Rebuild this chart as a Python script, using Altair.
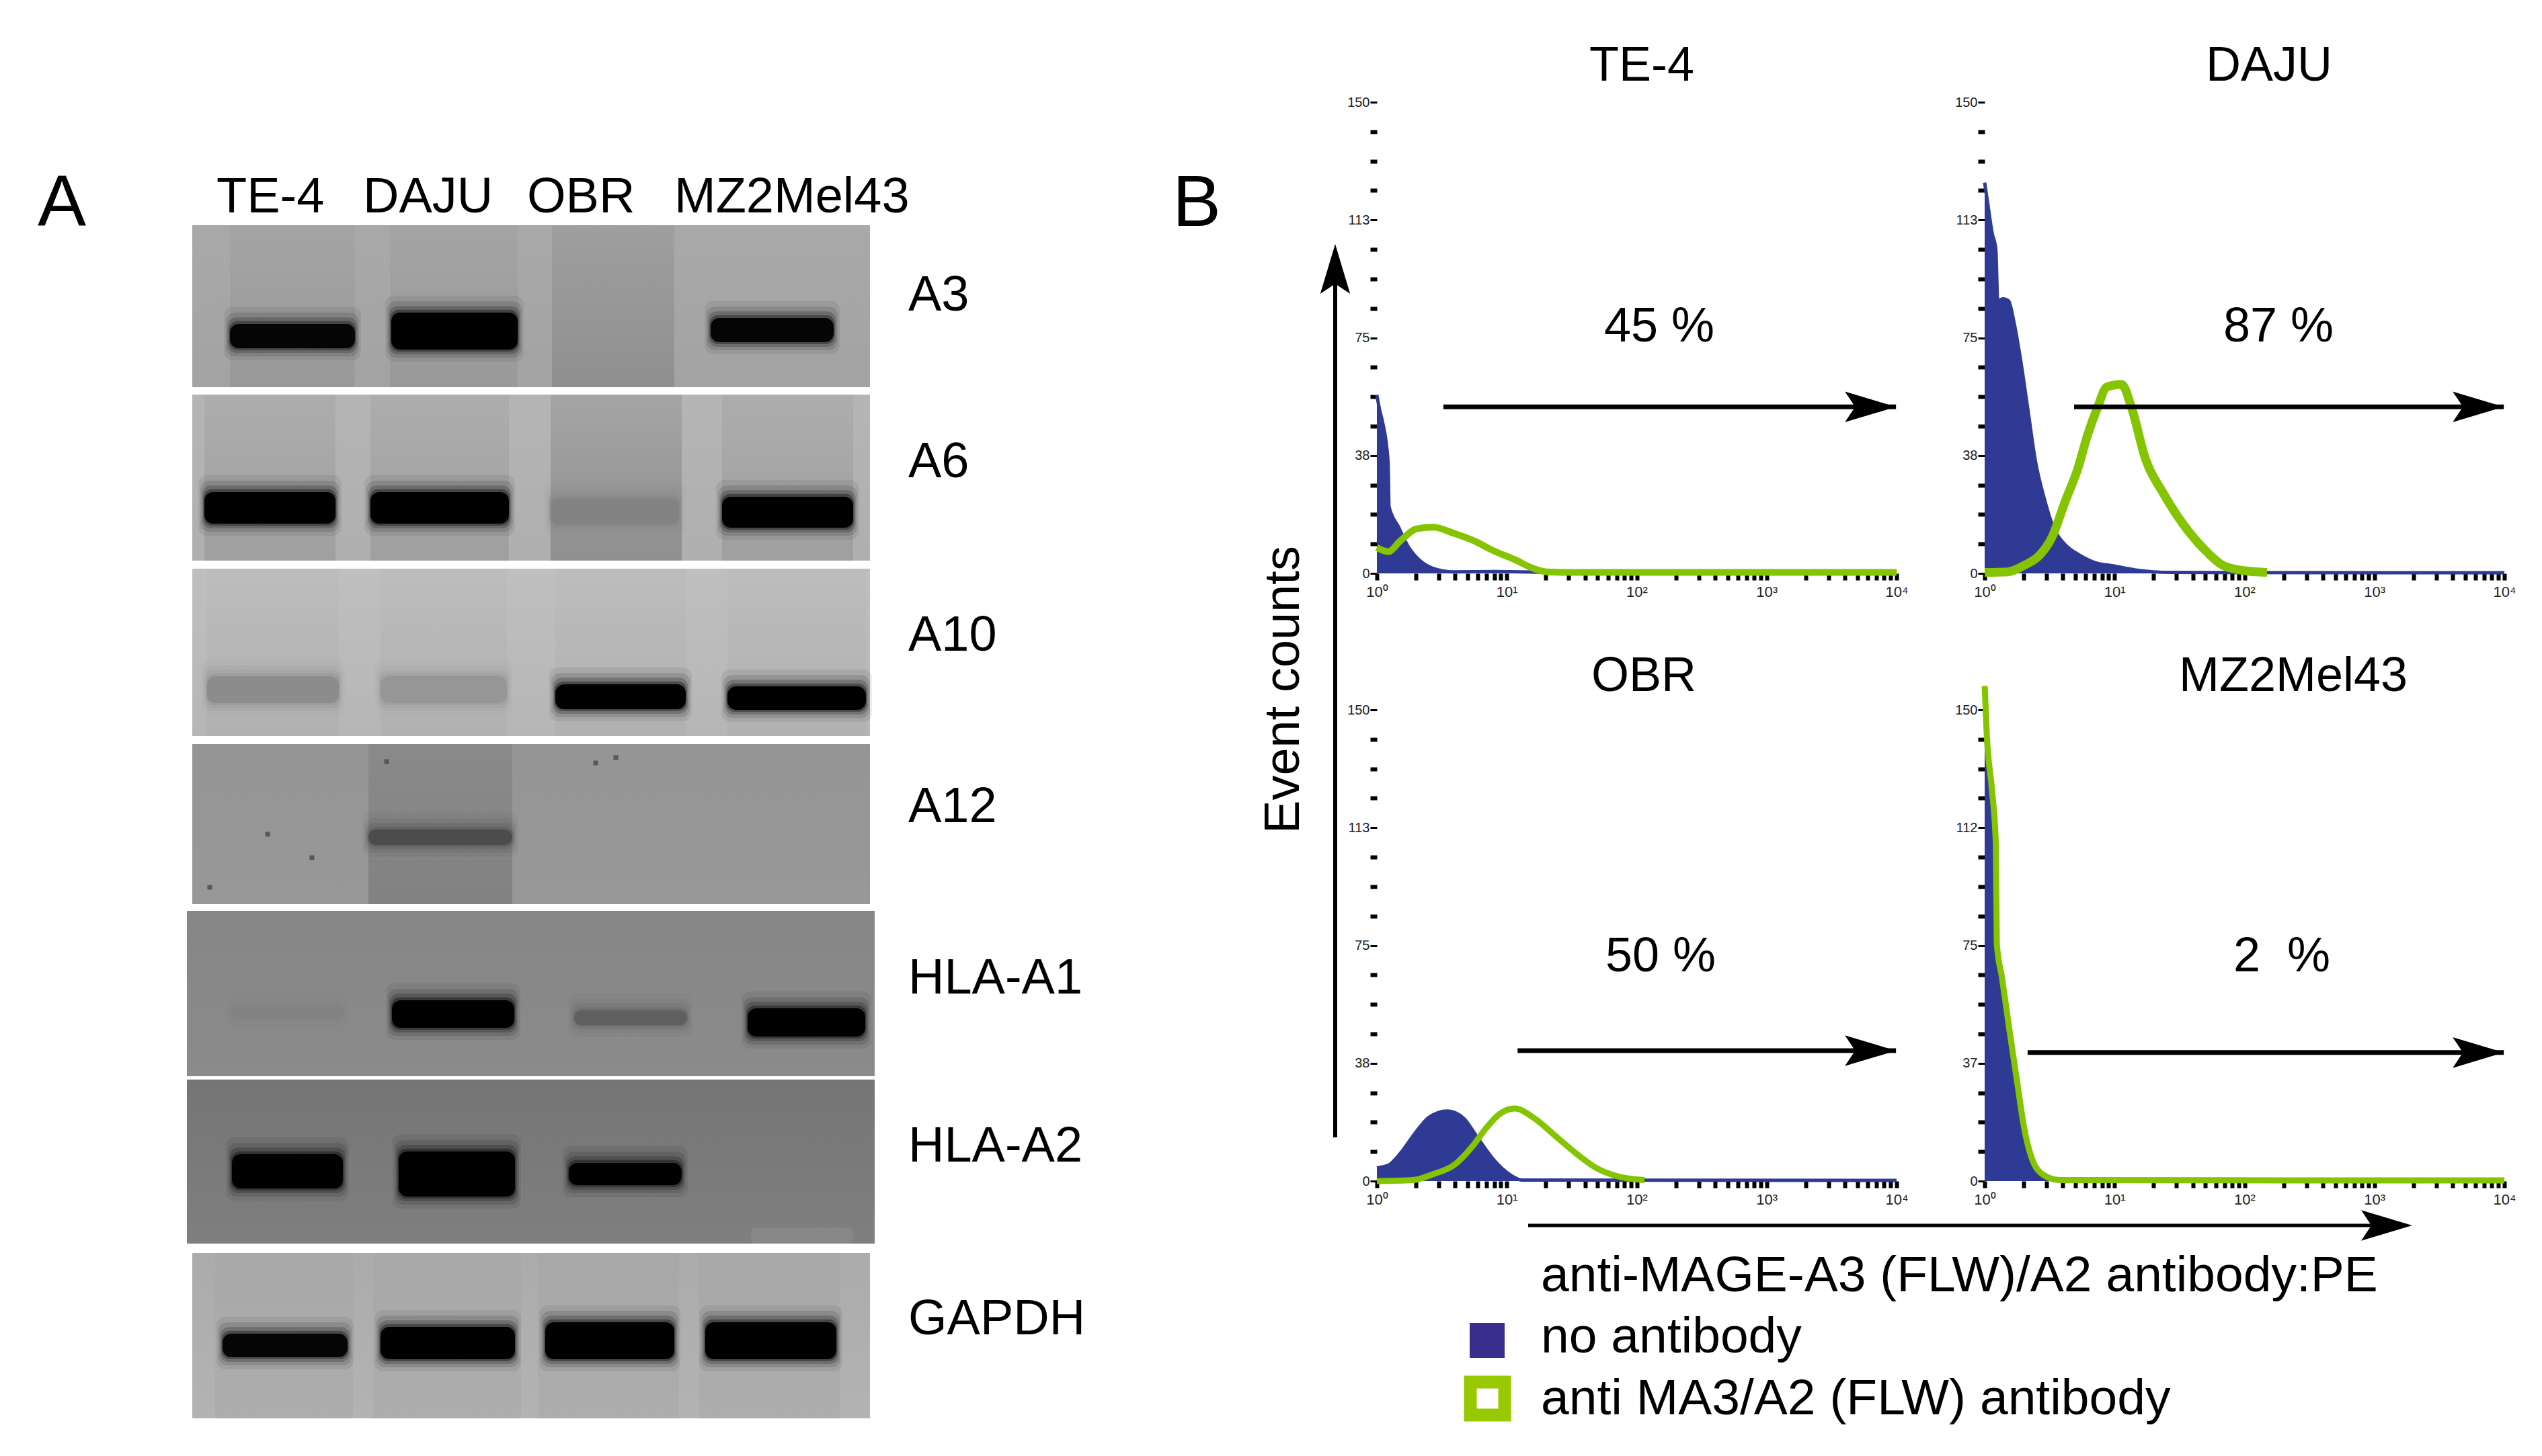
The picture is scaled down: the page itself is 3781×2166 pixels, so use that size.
import pandas as pd
import altair as alt

FONT = "Liberation Sans"
BLUE = "#2f3a94"
GREEN = "#84c400"

# histogram values (fluorescence, event counts)
te4_blue_x = [1, 1.05, 1.10, 1.22, 1.24, 1.47, 1.76, 2.18, 2.71, 3.89, 8, 23.6, 40, 10000]
te4_blue_y = [56.8, 52, 48.6, 35.5, 21.3, 14.7, 8.2, 3.8, 1.6, 0.5, 0.6, 0.3, 0.2, 0.2]
te4_green_x = [1, 1.22, 1.52, 2.03, 2.71, 3.89, 5.57, 8, 11.5, 16.4, 20.4, 33.9, 10000]
te4_green_y = [8.2, 6.9, 10.4, 14.2, 14.7, 12.8, 10.4, 7.1, 4.4, 1.4, 0.5, 0.3, 0.3]

daju_blue_x = [1, 1.06, 1.14, 1.22, 1.26, 1.38, 1.53, 1.68, 1.89, 2.14, 2.47, 2.85, 3.39, 4.2, 5.38, 7.1, 10.1, 14.5, 27.3, 10000]
daju_blue_y = [124.4, 117.3, 108.5, 103, 86.7, 87.4, 86.7, 80, 68, 52.8, 35.3, 24.4, 14.5, 9, 5.8, 3.4, 2.3, 1.1, 0.3, 0.2]
daju_green_x = [1, 1.51, 2, 2.65, 3.28, 4.2, 5.19, 6.19, 7.39, 8.7, 11.3, 13.5, 17.3, 23.7, 33.8, 48.1, 68.5, 97.5, 149]
daju_green_y = [0.3, 0.5, 2.5, 5.8, 11.3, 23.3, 33.1, 44, 52.8, 59.3, 60.2, 52.8, 36.4, 25.5, 15.6, 8, 2.5, 0.9, 0.3]

obr_blue_x = [1, 1.22, 1.52, 2.03, 2.52, 3.49, 4.65, 5.98, 8, 10.7, 13.2, 10000]
obr_blue_y = [4.2, 5, 8.9, 16, 20.3, 22.3, 20, 13.7, 6.6, 1.9, 0.3, 0.2]
obr_green_x = [1, 1.89, 2.71, 3.89, 5.57, 6.92, 8.9, 11.5, 16.4, 23.6, 33.9, 48.7, 70, 115]
obr_green_y = [0, 0.3, 2.2, 5, 11.6, 16.8, 21.5, 23.1, 19.9, 14.4, 8.9, 4.2, 1.6, 0.3]

mz_blue_x = [1, 1.04, 1.14, 1.2, 1.23, 1.36, 1.56, 1.8, 2, 2.3, 2.85, 3.78, 10000]
mz_blue_y = [150, 135, 118, 100, 72, 61, 44, 27, 14.5, 5.5, 1.2, 0.2, 0.2]
mz_green_x = [1, 1.04, 1.14, 1.22, 1.24, 1.36, 1.56, 1.8, 2, 2.3, 2.85, 3.78, 10000]
mz_green_y = [157.6, 141.6, 124.3, 107, 75.7, 64.7, 47.4, 30.1, 17.6, 7.4, 1.9, 0.3, 0.2]

count_ticks = [i * 9.375 for i in range(17)]
fl_ticks = [m * 10 ** d for d in range(4) for m in range(1, 10)] + [10000]

# gel rows
gel_rows = ["A3", "A6", "A10", "A12", "HLA-A1", "HLA-A2", "GAPDH"]
row_left = [286, 286, 286, 286, 278, 278, 286]
row_right = [1294, 1294, 1294, 1294, 1301, 1301, 1294]
row_top = [335, 587, 846, 1107, 1355, 1606, 1864]
row_bottom = [576, 834, 1095, 1345, 1601, 1850, 2110]
row_shade_top = ["#a9a9a9", "#b5b5b5", "#bfbfbf", "#959595", "#868686", "#757575", "#ababab"]
row_shade_bottom = ["#a3a3a3", "#afafaf", "#b6b6b6", "#989898", "#8b8b8b", "#7f7f7f", "#b3b3b3"]
row_label_y = [462, 710, 968, 1223, 1478, 1728, 1985]

lane_row = [0, 0, 0, 1, 1, 1, 1, 2, 2, 2, 2, 3, 6, 6, 6, 6]
lane_left = [342, 580, 821, 304, 551, 819, 1074, 308, 566, 826, 1082, 548, 320, 555, 800, 1040]
lane_right = [528, 770, 1003, 499, 757, 1014, 1269, 504, 754, 1020, 1288, 762, 525, 775, 1010, 1250]
lane_dark = [0.1, 0.1, 0.2, 0.15, 0.15, 0.3, 0.15, 0.05, 0.05, 0.05, 0.05, 0.25, 0.06, 0.06, 0.06, 0.06]

band_left = [342, 582, 1057, 304, 551, 819, 1074, 308, 566, 826, 1082, 548, 345, 583, 854, 1112, 345, 593, 846, 331, 566, 811, 1049]
band_right = [528, 770, 1240, 499, 757, 1010, 1269, 504, 754, 1020, 1288, 762, 510, 765, 1022, 1287, 510, 766, 1014, 517, 766, 1003, 1244]
band_top = [482, 465, 473, 732, 732, 742, 739, 1006, 1006, 1018, 1021, 1234, 1497, 1488, 1503, 1500, 1717, 1713, 1730, 1984, 1974, 1967, 1967]
band_bottom = [518, 520, 509, 779, 779, 780, 785, 1046, 1046, 1055, 1056, 1257, 1515, 1529, 1525, 1542, 1768, 1780, 1763, 2019, 2022, 2022, 2022]
band_gray = ["#050505", "#000000", "#050505", "#000000", "#000000", "#828282", "#000000",
             "#8c8c8c", "#969696", "#000000", "#000000", "#4c4c4c", "#828282", "#000000", "#5f5f5f", "#000000",
             "#000000", "#000000", "#000000", "#050505", "#000000", "#000000", "#000000"]

speck_x = [398, 464, 312, 916, 886, 575]
speck_y = [1241, 1276, 1320, 1127, 1135, 1133]

lane_names = ["TE-4", "DAJU", "OBR", "MZ2Mel43"]
lane_name_x = [322, 540, 784, 1003]


def gel_panel():
    x = alt.X("x:Q", scale=alt.Scale(domain=[8, 1968], nice=False, zero=False), axis=None)
    y = alt.Y("y:Q", scale=alt.Scale(domain=[2158, 8], nice=False, zero=False), axis=None)
    layers = []

    # plain gel background, one gradient per row
    for i, name in enumerate(gel_rows):
        df = pd.DataFrame({"x": [row_left[i]], "x2": [row_right[i]], "y": [row_top[i]], "y2": [row_bottom[i]]})
        fill = {"gradient": "linear", "x1": 0, "x2": 0, "y1": 0, "y2": 1,
                "stops": [{"offset": 0, "color": row_shade_top[i]}, {"offset": 1, "color": row_shade_bottom[i]}]}
        layers.append(alt.Chart(df).mark_rect(color=fill).encode(x=x, x2="x2:Q", y=y, y2="y2:Q"))

    # lanes get darker going down
    lanes = pd.DataFrame({
        "x": lane_left, "x2": lane_right,
        "y": [row_top[r] for r in lane_row],
        "y2": [row_bottom[r] for r in lane_row],
        "a": lane_dark,
    })
    lane_fill = {"gradient": "linear", "x1": 0, "x2": 0, "y1": 0, "y2": 1,
                 "stops": [{"offset": 0, "color": "rgba(0,0,0,0.3)"}, {"offset": 1, "color": "rgba(0,0,0,0.6)"}]}
    layers.append(alt.Chart(lanes).mark_rect(color=lane_fill).encode(
        x=x, x2="x2:Q", y=y, y2="y2:Q", opacity=alt.Opacity("a:Q", scale=None)))

    # the pale smear at the bottom of the last HLA-A2 lane
    smear = pd.DataFrame({"x": [1117], "x2": [1269], "y": [1826], "y2": [1850]})
    layers.append(alt.Chart(smear).mark_rect(color="white", opacity=0.07, cornerRadius=8).encode(
        x=x, x2="x2:Q", y=y, y2="y2:Q"))

    # bands: soft halo rects under a solid core
    rows = []
    for spread, alpha in [(18, 0.07), (12, 0.12), (7, 0.2), (3, 0.35), (0, 1)]:
        for i in range(len(band_left)):
            rows.append({
                "x": band_left[i] - spread * 0.5, "x2": band_right[i] + spread * 0.5,
                "y": band_top[i] - spread * 1.4, "y2": band_bottom[i] + spread,
                "c": band_gray[i], "a": alpha,
            })
    layers.append(alt.Chart(pd.DataFrame(rows)).mark_rect(cornerRadius=13).encode(
        x=x, x2="x2:Q", y=y, y2="y2:Q",
        color=alt.Color("c:N", scale=None), opacity=alt.Opacity("a:Q", scale=None)))

    specks = pd.DataFrame({"x": speck_x, "y": speck_y})
    layers.append(alt.Chart(specks).mark_square(size=50, color="#4a4a4a", opacity=0.8).encode(x=x, y=y))

    # labels
    heads = pd.DataFrame({"t": lane_names, "x": lane_name_x, "y": [316] * 4})
    layers.append(alt.Chart(heads).mark_text(font=FONT, fontSize=74, align="left", baseline="alphabetic", color="black").encode(
        x=x, y=y, text="t:N"))
    side = pd.DataFrame({"t": gel_rows, "x": [1351] * 7, "y": row_label_y})
    layers.append(alt.Chart(side).mark_text(font=FONT, fontSize=74, align="left", baseline="alphabetic", color="black").encode(
        x=x, y=y, text="t:N"))
    letters = pd.DataFrame({"t": ["A", "B"], "x": [92, 1780], "y": [336, 336]})
    layers.append(alt.Chart(letters).mark_text(font=FONT, fontSize=108, align="center", baseline="alphabetic", color="black").encode(
        x=x, y=y, text="t:N"))

    return alt.layer(*layers).properties(width=1960, height=2150)


def one_text(text, px, py, size=74, align="center", angle=0):
    return alt.Chart(pd.DataFrame({"t": [text]})).mark_text(
        font=FONT, fontSize=size, align=align, baseline="alphabetic", color="black", angle=angle
    ).encode(text="t:N", x=alt.value(px), y=alt.value(py))


def hist_panel(name, blue_x, blue_y, green_x, green_y, labels, pct, ox, oy, height, ymax,
               title_pos, pct_pos, gate_from, gate_y, green_w=10, extras=None):
    # scale goes a bit past 150 on the top row so the panels line up with the page top
    xs = alt.Scale(type="log", domain=[1, 10000], nice=False)
    ys = alt.Scale(domain=[0, ymax], nice=False, zero=True)
    x_ax = alt.Axis(
        values=fl_ticks, title=None, domain=False, grid=False, tickSize=10, tickWidth=6, tickColor="black",
        labelFont=FONT, labelFontSize=22, labelColor="#222", labelPadding=7, labelOverlap=False, labelFlush=False,
        labelExpr="datum.value==1?'10⁰':datum.value==10?'10¹':datum.value==100?'10²':datum.value==1000?'10³':datum.value==10000?'10⁴':''",
    )
    y_ax = alt.Axis(
        values=count_ticks, title=None, domain=False, grid=False, tickSize=10, tickColor="black",
        tickWidth={"condition": {"test": "datum.value % 37.5 == 0", "value": 3}, "value": 6},
        labelFont=FONT, labelFontSize=20, labelColor="#222", labelPadding=1, labelOverlap=False,
        labelExpr=f"datum.value==0?'0':datum.value==37.5?'{labels[0]}':datum.value==75?'75':datum.value==112.5?'{labels[1]}':datum.value==150?'150':''",
    )
    x = alt.X("x:Q", scale=xs, axis=x_ax)
    y = alt.Y("y:Q", scale=ys, axis=y_ax)
    blue = pd.DataFrame({"x": blue_x, "y": blue_y})
    green = pd.DataFrame({"x": green_x, "y": green_y})
    gate = pd.DataFrame({"x": [gate_from], "x2": [9900], "y": [gate_y]})
    tip = pd.DataFrame({"x": [9900], "y": [gate_y]})

    layers = [
        alt.Chart(blue).mark_area(color=BLUE, opacity=1, interpolate="monotone").encode(x=x, y=y),
        alt.Chart(blue).mark_line(color=BLUE, strokeWidth=5, interpolate="monotone", strokeJoin="round").encode(x=x, y=y),
        alt.Chart(green).mark_line(color=GREEN, strokeWidth=green_w, interpolate="monotone", strokeJoin="round").encode(x=x, y=y),
        alt.Chart(gate).mark_rule(color="black", strokeWidth=7).encode(x=x, x2="x2:Q", y=y),
        alt.Chart(tip).mark_point(shape="M0,0 L-2,-0.6 L-1.6,0 L-2,0.6 Z", size=5776, filled=True, color="black", opacity=1, strokeWidth=0).encode(x=x, y=y),
        one_text(name, title_pos[0] - ox, title_pos[1] - oy, size=72),
        one_text(pct, pct_pos[0] - ox, pct_pos[1] - oy, size=72),
    ]
    if extras:
        layers += extras(ox, oy)
    return alt.layer(*layers).properties(width=773, height=height)


def event_axis(ox, oy):
    ax = 1986 - ox
    return [
        alt.Chart(pd.DataFrame({"a": [0]})).mark_rule(color="black", strokeWidth=6).encode(
            x=alt.value(ax), y=alt.value(400 - oy), y2=alt.value(1692 - oy)),
        alt.Chart(pd.DataFrame({"a": [0]})).mark_point(shape="M0,0 L-0.6,2 L0,1.6 L0.6,2 Z", size=5476, filled=True, color="black", opacity=1, strokeWidth=0).encode(
            x=alt.value(ax), y=alt.value(363 - oy)),
        one_text("Event counts", 1932 - ox, 1026 - oy, angle=270),
    ]


def fl_axis(ox, oy):
    one = pd.DataFrame({"a": [0]})
    return [
        alt.Chart(one).mark_rule(color="black", strokeWidth=5).encode(
            x=alt.value(2273 - ox), x2=alt.value(3530 - ox), y=alt.value(1823 - oy)),
        alt.Chart(one).mark_point(shape="M0,0 L-2,-0.6 L-1.6,0 L-2,0.6 Z", size=5776, filled=True, color="black", opacity=1, strokeWidth=0).encode(
            x=alt.value(3588 - ox), y=alt.value(1823 - oy)),
        one_text("anti-MAGE-A3 (FLW)/A2 antibody:PE", 2292 - ox, 1921 - oy, size=75, align="left"),
        one_text("no antibody", 2292 - ox, 2012 - oy, size=75, align="left"),
        one_text("anti MA3/A2 (FLW) antibody", 2292 - ox, 2104 - oy, size=75, align="left"),
        alt.Chart(one).mark_rect(color="#3b2d8e").encode(
            x=alt.value(2186 - ox), x2=alt.value(2238 - ox), y=alt.value(1968 - oy), y2=alt.value(2020 - oy)),
        alt.Chart(one).mark_rect(color="white", stroke="#97c800", strokeWidth=19).encode(
            x=alt.value(2187 - ox), x2=alt.value(2238 - ox), y=alt.value(2056 - oy), y2=alt.value(2105 - oy)),
    ]


TOP_H = 845
TOP_MAX = 150 * TOP_H / 701

te4 = hist_panel("TE-4", te4_blue_x, te4_blue_y, te4_green_x, te4_green_y, ["38", "113"], "45 %", 2048, 8, TOP_H, TOP_MAX,
                 (2442, 120), (2468, 508), 3.25, 53, extras=event_axis)
daju = hist_panel("DAJU", daju_blue_x, daju_blue_y, daju_green_x, daju_green_y, ["38", "113"], "87 %", 2952, 8, TOP_H, TOP_MAX,
                  (3375, 120), (3389, 508), 4.88, 53, green_w=13)
obr = hist_panel("OBR", obr_blue_x, obr_blue_y, obr_green_x, obr_green_y, ["38", "113"], "50 %", 2048, 1056, 701, 150,
                 (2445, 1028), (2470, 1445), 12.1, 41.5, green_w=9, extras=fl_axis)
mz = hist_panel("MZ2Mel43", mz_blue_x, mz_blue_y, mz_green_x, mz_green_y, ["37", "112"], "2\u00a0\u00a0%", 2952, 1056, 701, 150,
                (3411, 1028), (3394, 1445), 2.14, 40.9, green_w=9)

grid = alt.concat(te4, daju, obr, mz, columns=2, spacing={"row": 203, "column": 131}, bounds="flush")
chart = alt.hconcat(gel_panel(), grid, spacing=80, bounds="flush").properties(
    padding=0, background="white"
).configure_view(strokeWidth=0)

chart.save("out.html", embed_options={"renderer": "svg", "actions": False})
